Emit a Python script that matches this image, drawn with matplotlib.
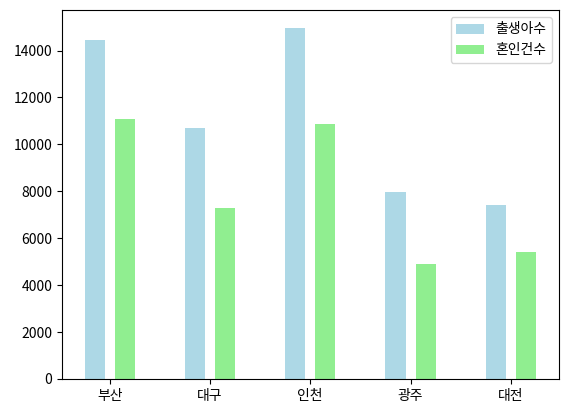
import matplotlib
matplotlib.use("Agg")
import matplotlib.pyplot as plt
import numpy as np

plt.rcParams['font.family'] = ['Noto Sans CJK KR', 'DejaVu Sans']
plt.rcParams['axes.unicode_minus'] = False

cities = ['부산', '대구', '인천', '광주', '대전']
births = [14470, 10680, 14980, 7960, 7400]
marriages = [11100, 7280, 10890, 4900, 5400]
series_labels = ['출생아수', '혼인건수']

fig = plt.figure(figsize=(5.67, 4.12), dpi=100)
ax = fig.add_axes([62/567, 1-379/412, 496.5/567, 369/412])
x = np.arange(len(cities))
ax.bar(x - 0.15, births, width=0.2, color='lightblue', label=series_labels[0])
ax.bar(x + 0.15, marriages, width=0.2, color='lightgreen', label=series_labels[1])
ax.set_xticks(x)
ax.set_xticklabels(cities)
ax.legend(loc='upper right')
fig.savefig('out.png', dpi=100)
